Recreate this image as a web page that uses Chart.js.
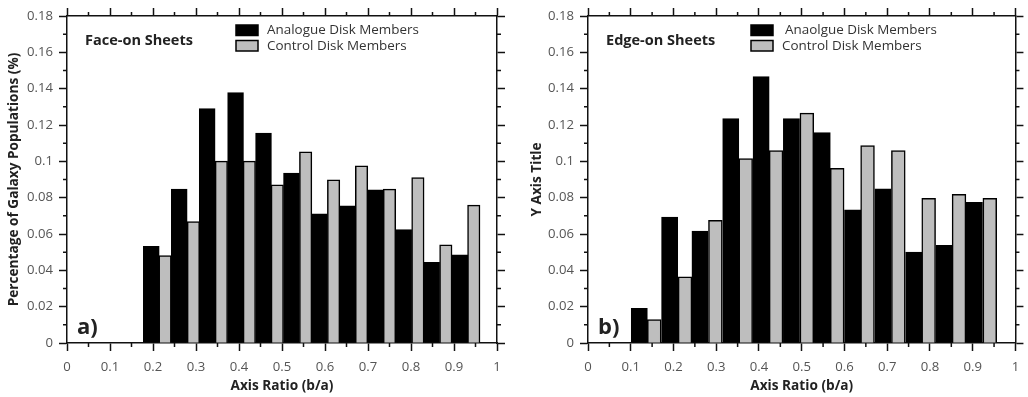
<!DOCTYPE html>
<html>
<head>
<meta charset="utf-8">
<script src="https://cdn.jsdelivr.net/npm/chart.js@4.4.1/dist/chart.umd.min.js"></script>
<style>
  html, body { margin: 0; padding: 0; background: #fff; }
  #wrap { position: relative; width: 1028px; height: 397px; overflow: hidden; }
  canvas { position: absolute; top: 0; }
</style>
</head>
<body>
<div id="wrap">
  <canvas id="c1" width="515" height="397" style="left:0"></canvas>
  <canvas id="c2" width="513" height="397" style="left:515px"></canvas>
</div>
<script>
// ---------- Data: panel a) Face-on Sheets ----------
const faceAnalogueX = [0.196, 0.261, 0.326, 0.392, 0.457, 0.522, 0.587, 0.653, 0.718, 0.783, 0.848, 0.914];
const faceAnalogue  = [0.0531, 0.0846, 0.1289, 0.1377, 0.1154, 0.0934, 0.0710, 0.0754, 0.0842, 0.0623, 0.0443, 0.0485];
const faceControlX  = [0.228, 0.294, 0.359, 0.424, 0.489, 0.555, 0.620, 0.685, 0.750, 0.816, 0.881, 0.946];
const faceControl   = [0.0480, 0.0668, 0.1000, 0.1000, 0.0870, 0.1051, 0.0897, 0.0974, 0.0846, 0.0910, 0.0540, 0.0758];

// ---------- Data: panel b) Edge-on Sheets ----------
const edgeAnalogueX = [0.120, 0.191, 0.262, 0.334, 0.405, 0.476, 0.548, 0.619, 0.690, 0.762, 0.833, 0.904];
const edgeAnalogue  = [0.0190, 0.0692, 0.0615, 0.1234, 0.1465, 0.1234, 0.1157, 0.0732, 0.0848, 0.0500, 0.0537, 0.0773];
const edgeControlX  = [0.155, 0.227, 0.298, 0.369, 0.440, 0.512, 0.583, 0.654, 0.726, 0.797, 0.868, 0.940];
const edgeControl   = [0.0128, 0.0363, 0.0674, 0.1014, 0.1058, 0.1264, 0.0960, 0.1086, 0.1058, 0.0795, 0.0817, 0.0795];

// ---------- Axes ----------
const xMin = 0, xMax = 1, xStep = 0.1, xMinor = 0.05;
const yMin = 0, yMax = 0.18, yStep = 0.02, yMinor = 0.01;

const FAMILY = "'Open Sans', 'DejaVu Sans', sans-serif";
const fmt = v => String(Number(v.toFixed(2)));
const pts = (xs, ys) => xs.map((x, i) => ({ x: x, y: ys[i] }));

// font size that makes a text reach a given width
const mctx = document.createElement('canvas').getContext('2d');
function fitSize(text, weight, width) {
  mctx.font = weight + ' 100px ' + FAMILY;
  return 100 * width / mctx.measureText(text).width;
}
const tickSize   = fitSize('0.18', 'normal', 26);
const axTitleSz  = fitSize('Percentage of Galaxy Populations (%)', 'bold', 254);
const panelSz    = fitSize('Face-on Sheets', 'bold', 108);
const legendSz   = fitSize('Analogue Disk Members', 'normal', 152);

// minor ticks + in-plot texts + legend
const decor = {
  id: 'decor',
  afterDraw(chart, args, o) {
    const ctx = chart.ctx;
    const ca = chart.chartArea;
    ctx.save();
    ctx.strokeStyle = '#111';
    ctx.lineWidth = 1.5;
    const len = 4;
    const sx = chart.scales.x, sy = chart.scales.y;
    ctx.beginPath();
    for (let v = xMin + xMinor; v < xMax; v += 2 * xMinor) {
      const p = sx.getPixelForValue(v);
      ctx.moveTo(p, ca.bottom); ctx.lineTo(p, ca.bottom + len);
      ctx.moveTo(p, ca.top); ctx.lineTo(p, ca.top - len);
    }
    for (let v = yMin + yMinor; v < yMax; v += 2 * yMinor) {
      const p = sy.getPixelForValue(v);
      ctx.moveTo(ca.left, p); ctx.lineTo(ca.left - len, p);
      ctx.moveTo(ca.right, p); ctx.lineTo(ca.right + len, p);
    }
    ctx.stroke();

    ctx.fillStyle = '#222';
    ctx.textBaseline = 'middle';
    ctx.textAlign = 'left';
    ctx.font = 'bold ' + panelSz + 'px ' + FAMILY;
    ctx.fillText(o.title, ca.left + o.titleDx, ca.top + 25);
    ctx.font = 'bold 22px ' + FAMILY;
    ctx.fillText(o.letter, ca.left + o.letterDx, ca.bottom - 15);

    ctx.font = legendSz + 'px ' + FAMILY;
    chart.data.datasets.forEach((ds, i) => {
      const yTop = ca.top + 9 + i * 15.5;
      ctx.fillStyle = ds.backgroundColor;
      ctx.fillRect(o.legX, yTop, 22, 10.5);
      ctx.lineWidth = 1.5;
      ctx.strokeStyle = '#000';
      ctx.strokeRect(o.legX, yTop, 22, 10.5);
      ctx.fillStyle = '#333';
      ctx.fillText(ds.label, o.legX + o.legTextDx[i], yTop + 5.5);
    });
    ctx.restore();
  }
};

function makeChart(id, aX, a, cX, c, labelA, yTitle, layout) {
  const tickFont = { family: FAMILY, size: tickSize };
  const titleFont = { family: FAMILY, size: axTitleSz, weight: 'bold' };
  const gridCommon = { drawOnChartArea: false, drawTicks: true, tickLength: 8, tickWidth: 1.5, tickColor: '#111' };
  const borderCommon = { display: true, color: '#111', width: 1.5 };
  return new Chart(document.getElementById(id), {
    type: 'bar',
    data: {
      datasets: [
        { label: labelA, data: pts(aX, a), backgroundColor: '#000000', borderColor: '#000000',
          borderWidth: 1.5, borderSkipped: 'start', inflateAmount: 0.5,
          barPercentage: layout.barA, categoryPercentage: 1, grouped: false },
        { label: 'Control Disk Members', data: pts(cX, c), backgroundColor: '#bebebe', borderColor: '#000000',
          borderWidth: 1.5, borderSkipped: 'start', inflateAmount: 0.5,
          barPercentage: layout.barC, categoryPercentage: 1, grouped: false }
      ]
    },
    options: {
      responsive: false,
      animation: false,
      devicePixelRatio: 1,
      layout: { padding: 0 },
      plugins: {
        legend: { display: false },
        tooltip: { enabled: false },
        decor: layout.decor
      },
      scales: {
        x: {
          type: 'linear', position: 'bottom', min: xMin, max: xMax, offset: false,
          ticks: { stepSize: xStep, callback: v => fmt(v), color: '#555', font: tickFont,
                   padding: 367.7 - 343 - 8 - 0.6 * tickSize, maxRotation: 0, autoSkip: false },
          grid: Object.assign({ offset: false }, gridCommon),
          border: borderCommon,
          title: { display: true, text: 'Axis Ratio (b/a)', color: '#222', font: titleFont,
                   padding: { top: 0, bottom: 11 - 0.6 * axTitleSz } },
          afterFit: s => { s.height = 54; }
        },
        x2: {
          type: 'linear', position: 'top', min: xMin, max: xMax, offset: false,
          ticks: { stepSize: xStep, callback: () => '', autoSkip: false },
          grid: Object.assign({ offset: false }, gridCommon),
          border: borderCommon,
          afterFit: s => { s.height = 16; }
        },
        y: {
          type: 'linear', position: 'left', min: yMin, max: yMax,
          ticks: { stepSize: yStep, callback: v => fmt(v), color: '#555', font: tickFont, padding: 6 },
          grid: gridCommon,
          border: borderCommon,
          title: { display: true, text: yTitle, color: '#222', font: titleFont,
                   padding: { top: layout.yTitleX - 0.6 * axTitleSz, bottom: 0 } },
          afterFit: s => { s.width = layout.yWidth; }
        },
        y2: {
          type: 'linear', position: 'right', min: yMin, max: yMax,
          ticks: { stepSize: yStep, callback: () => '' },
          grid: gridCommon,
          border: borderCommon,
          afterFit: s => { s.width = layout.y2Width; }
        }
      }
    },
    plugins: [decor]
  });
}

makeChart('c1', faceAnalogueX, faceAnalogue, faceControlX, faceControl,
  'Analogue Disk Members', 'Percentage of Galaxy Populations (%)',
  { yWidth: 67, y2Width: 18, yTitleX: 14, barA: 1.13, barC: 0.88,
    decor: { title: 'Face-on Sheets', titleDx: 18, letter: 'a)', letterDx: 10, legX: 236, legTextDx: [31, 31] } });

makeChart('c2', edgeAnalogueX, edgeAnalogue, edgeControlX, edgeControl,
  'Anaolgue Disk Members', 'Y Axis Title',
  { yWidth: 73, y2Width: 10, yTitleX: 21.7, barA: 1.06, barC: 0.9,
    decor: { title: 'Edge-on Sheets', titleDx: 18, letter: 'b)', letterDx: 10, legX: 236, legTextDx: [34, 31] } });
</script>
</body>
</html>
